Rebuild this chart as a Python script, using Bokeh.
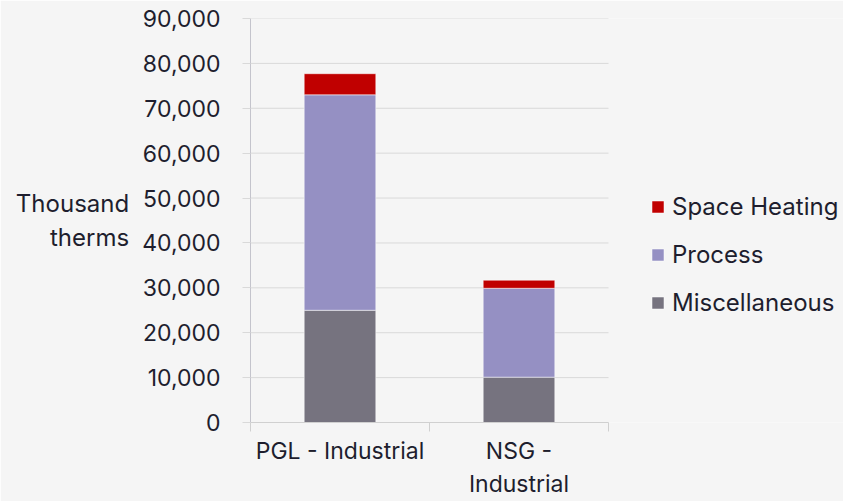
from bokeh.plotting import figure
from bokeh.models import Range1d, FixedTicker, NumeralTickFormatter, Legend, LegendItem
from bokeh.embed import file_html
from bokeh.resources import INLINE

categories = ["PGL - Industrial", "NSG - Industrial"]
category_labels = ["PGL - Industrial", "NSG -\nIndustrial"]
miscellaneous = [25000, 10100]
process = [48000, 19800]
space_heating = [4700, 1800]
series_names = ["Miscellaneous", "Process", "Space Heating"]
colors = ["#76737F", "#9590C3", "#C00000"]
y_ticks = list(range(0, 90001, 10000))

FONT = "Inter"
TXT = "#1E1E2E"
BG = "#F5F5F5"
GRID = "#D9D9D9"

n = len(categories)
xs = [i + 0.5 for i in range(n)]
data = dict(x=xs, Miscellaneous=miscellaneous, Process=process,
            **{"Space Heating": space_heating})

# frame spans to the right edge so the legend (drawn inside the frame) is not clipped;
# the category area (0..n) occupies 358 px of the 593 px frame
x_max = n * 593 / 358

p = figure(width=843, height=501, output_backend="svg", toolbar_location=None,
           x_range=Range1d(0, x_max), y_range=Range1d(0, 90000),
           min_border_left=250, min_border_right=0, min_border_top=18,
           min_border_bottom=78)
p.background_fill_color = BG
p.border_fill_color = BG
p.outline_line_color = None
p.xgrid.grid_line_color = None
p.ygrid.grid_line_color = None

# horizontal gridlines limited to the category area
gy = y_ticks[1:]
p.segment(x0=[0] * len(gy), x1=[n] * len(gy), y0=gy, y1=gy,
          line_color=GRID, line_width=1)

renderers = p.vbar_stack(series_names, x="x", width=0.4, source=data, color=colors,
                         line_color="#FFFFFF", line_alpha=0.5, line_width=1)

ya = p.yaxis[0]
ya.ticker = FixedTicker(ticks=y_ticks)
ya.formatter = NumeralTickFormatter(format="0,0")
ya.axis_line_color = "#C4C4CC"
ya.major_tick_line_color = GRID
ya.major_tick_out = 8
ya.major_tick_in = 0
ya.minor_tick_line_color = None
ya.major_label_text_font = FONT
ya.major_label_text_font_size = "23px"
ya.major_label_text_color = TXT
ya.major_label_standoff = 22
ya.axis_label = "Thousand\ntherms"
ya.axis_label_orientation = "horizontal"
ya.axis_label_text_font = FONT
ya.axis_label_text_font_size = "24px"
ya.axis_label_text_font_style = "normal"
ya.axis_label_text_color = TXT
ya.axis_label_standoff = 10

xa = p.xaxis[0]
xa.bounds = (0, n)
xa.ticker = FixedTicker(ticks=xs, minor_ticks=list(range(n + 1)))
xa.major_label_overrides = {x: lab for x, lab in zip(xs, category_labels)}
xa.axis_line_color = "#D0D0D0"
xa.major_tick_line_color = None
xa.minor_tick_line_color = "#D0D0D0"
xa.minor_tick_out = 9
xa.minor_tick_in = 0
xa.major_label_text_font = FONT
xa.major_label_text_font_size = "23px"
xa.major_label_text_color = TXT
xa.major_label_standoff = 5

items = [LegendItem(label=s, renderers=[r]) for s, r in zip(series_names, renderers)][::-1]
legend = Legend(items=items, location=(400, 105), orientation="vertical")
legend.background_fill_alpha = 0
legend.border_line_color = None
legend.label_text_font = FONT
legend.label_text_font_size = "24px"
legend.label_text_color = TXT
legend.glyph_width = 15
legend.glyph_height = 15
legend.label_height = 22
legend.label_standoff = 7
legend.spacing = 19
legend.padding = 0
legend.margin = 0
p.add_layout(legend)

open("out.html", "w").write(file_html(p, INLINE))
